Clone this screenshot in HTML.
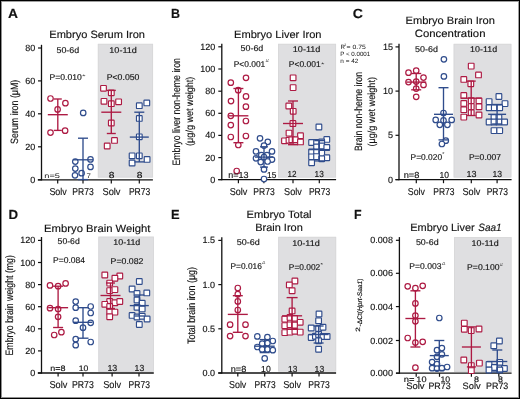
<!DOCTYPE html>
<html><head><meta charset="utf-8"><style>
html,body{margin:0;padding:0;background:#fff;}
svg{display:block;will-change:transform;font-family:"Liberation Sans", sans-serif;}
text{stroke:#1a1a1a;stroke-width:0.15px;}
</style></head><body>
<svg width="520" height="399" viewBox="0 0 520 399" text-rendering="geometricPrecision" font-family="'Liberation Sans', sans-serif">
<rect x="0.0" y="0.0" width="520.0" height="399.0" fill="#fff"/>
<text x="8.0" y="17.8" font-size="13.2" font-weight="bold" textLength="10.0" lengthAdjust="spacingAndGlyphs" fill="#111">A</text>
<text x="49.3" y="38.2" font-size="10.6" textLength="95.7" lengthAdjust="spacingAndGlyphs" fill="#111">Embryo Serum Iron</text>
<rect x="97.8" y="43.8" width="55.3" height="133.8" fill="#dfdfe1"/>
<rect x="98.3" y="44.3" width="54.3" height="132.8" fill="none" stroke="#d7d7d9" stroke-width="0.8"/>
<line x1="41.5" y1="44.8" x2="41.5" y2="180.4" stroke="#111" stroke-width="1.3"/>
<line x1="38.0" y1="48.0" x2="41.5" y2="48.0" stroke="#111" stroke-width="1.2"/>
<text x="35.3" y="51.0" font-size="9.0" text-anchor="end" fill="#111">80</text>
<line x1="38.0" y1="80.9" x2="41.5" y2="80.9" stroke="#111" stroke-width="1.2"/>
<text x="35.3" y="83.9" font-size="9.0" text-anchor="end" fill="#111">60</text>
<line x1="38.0" y1="113.8" x2="41.5" y2="113.8" stroke="#111" stroke-width="1.2"/>
<text x="35.3" y="116.8" font-size="9.0" text-anchor="end" fill="#111">40</text>
<line x1="38.0" y1="146.8" x2="41.5" y2="146.8" stroke="#111" stroke-width="1.2"/>
<text x="35.3" y="149.8" font-size="9.0" text-anchor="end" fill="#111">20</text>
<line x1="38.0" y1="179.8" x2="41.5" y2="179.8" stroke="#111" stroke-width="1.2"/>
<text x="35.3" y="182.8" font-size="9.0" text-anchor="end" fill="#111">0</text>
<line x1="37.8" y1="179.8" x2="152.9" y2="179.8" stroke="#111" stroke-width="1.3"/>
<line x1="57.7" y1="179.8" x2="57.7" y2="183.4" stroke="#111" stroke-width="1.2"/>
<line x1="83.0" y1="179.8" x2="83.0" y2="183.4" stroke="#111" stroke-width="1.2"/>
<line x1="111.3" y1="179.8" x2="111.3" y2="183.4" stroke="#111" stroke-width="1.2"/>
<line x1="139.3" y1="179.8" x2="139.3" y2="183.4" stroke="#111" stroke-width="1.2"/>
<text x="56.5" y="53.2" font-size="8.4" textLength="22.7" lengthAdjust="spacingAndGlyphs" fill="#111">50-6d</text>
<text x="109.3" y="53.2" font-size="8.4" textLength="27.6" lengthAdjust="spacingAndGlyphs" fill="#111">10-11d</text>
<text x="49.5" y="80.0" font-size="8.4" textLength="32.4" lengthAdjust="spacingAndGlyphs" fill="#111">P=0.010</text>
<text x="82.1" y="78.4" font-size="5.2" textLength="3.6" lengthAdjust="spacingAndGlyphs" fill="#111" style="stroke:none">*</text>
<text x="106.7" y="79.9" font-size="8.4" textLength="32.8" lengthAdjust="spacingAndGlyphs" fill="#111">P&lt;0.050</text>
<circle cx="50.5" cy="98.5" r="2.75" fill="#fff" stroke="#ad1a43" stroke-width="1.2"/>
<circle cx="65.4" cy="103.2" r="2.75" fill="#fff" stroke="#ad1a43" stroke-width="1.2"/>
<circle cx="57.6" cy="109.4" r="2.75" fill="#fff" stroke="#ad1a43" stroke-width="1.2"/>
<circle cx="50.5" cy="132.6" r="2.75" fill="#fff" stroke="#ad1a43" stroke-width="1.2"/>
<circle cx="65.1" cy="130.7" r="2.75" fill="#fff" stroke="#ad1a43" stroke-width="1.2"/>
<circle cx="83.2" cy="112.9" r="2.75" fill="#fff" stroke="#2f4c8c" stroke-width="1.2"/>
<circle cx="75.3" cy="161.6" r="2.75" fill="#fff" stroke="#2f4c8c" stroke-width="1.2"/>
<circle cx="90.5" cy="159.4" r="2.75" fill="#fff" stroke="#2f4c8c" stroke-width="1.2"/>
<circle cx="75.3" cy="168.6" r="2.75" fill="#fff" stroke="#2f4c8c" stroke-width="1.2"/>
<circle cx="90.5" cy="166.9" r="2.75" fill="#fff" stroke="#2f4c8c" stroke-width="1.2"/>
<circle cx="75.0" cy="175.3" r="2.75" fill="#fff" stroke="#2f4c8c" stroke-width="1.2"/>
<circle cx="81.6" cy="173.2" r="2.75" fill="#fff" stroke="#2f4c8c" stroke-width="1.2"/>
<rect x="100.65" y="85.45" width="5.7" height="5.7" rx="0.6" fill="#fff" stroke="#ad1a43" stroke-width="1.15"/>
<rect x="108.45" y="89.95" width="5.7" height="5.7" rx="0.6" fill="#fff" stroke="#ad1a43" stroke-width="1.15"/>
<rect x="101.15" y="98.45" width="5.7" height="5.7" rx="0.6" fill="#fff" stroke="#ad1a43" stroke-width="1.15"/>
<rect x="108.45" y="100.85" width="5.7" height="5.7" rx="0.6" fill="#fff" stroke="#ad1a43" stroke-width="1.15"/>
<rect x="115.75" y="98.95" width="5.7" height="5.7" rx="0.6" fill="#fff" stroke="#ad1a43" stroke-width="1.15"/>
<rect x="108.45" y="120.15" width="5.7" height="5.7" rx="0.6" fill="#fff" stroke="#ad1a43" stroke-width="1.15"/>
<rect x="111.65" y="137.55" width="5.7" height="5.7" rx="0.6" fill="#fff" stroke="#ad1a43" stroke-width="1.15"/>
<rect x="104.35" y="143.15" width="5.7" height="5.7" rx="0.6" fill="#fff" stroke="#ad1a43" stroke-width="1.15"/>
<rect x="136.45" y="102.85" width="5.7" height="5.7" rx="0.6" fill="#fff" stroke="#2f4c8c" stroke-width="1.15"/>
<rect x="143.95" y="100.05" width="5.7" height="5.7" rx="0.6" fill="#fff" stroke="#2f4c8c" stroke-width="1.15"/>
<rect x="136.45" y="115.55" width="5.7" height="5.7" rx="0.6" fill="#fff" stroke="#2f4c8c" stroke-width="1.15"/>
<rect x="136.45" y="133.95" width="5.7" height="5.7" rx="0.6" fill="#fff" stroke="#2f4c8c" stroke-width="1.15"/>
<rect x="129.25" y="152.95" width="5.7" height="5.7" rx="0.6" fill="#fff" stroke="#2f4c8c" stroke-width="1.15"/>
<rect x="136.45" y="152.95" width="5.7" height="5.7" rx="0.6" fill="#fff" stroke="#2f4c8c" stroke-width="1.15"/>
<rect x="144.25" y="156.55" width="5.7" height="5.7" rx="0.6" fill="#fff" stroke="#2f4c8c" stroke-width="1.15"/>
<rect x="129.25" y="160.15" width="5.7" height="5.7" rx="0.6" fill="#fff" stroke="#2f4c8c" stroke-width="1.15"/>
<text x="44.3" y="178.0" font-size="6.6" textLength="15.6" lengthAdjust="spacingAndGlyphs" fill="#111" style="stroke:none">n=5</text>
<text x="86.6" y="178.0" font-size="6.6" textLength="4.4" lengthAdjust="spacingAndGlyphs" fill="#111" style="stroke:none">7</text>
<text x="108.7" y="178.0" font-size="8.8" textLength="5.7" lengthAdjust="spacingAndGlyphs" fill="#111">8</text>
<text x="136.7" y="178.0" font-size="8.8" textLength="5.7" lengthAdjust="spacingAndGlyphs" fill="#111">8</text>
<text x="49.4" y="195.0" font-size="10.0" textLength="17.4" lengthAdjust="spacingAndGlyphs" fill="#111">Solv</text>
<text x="72.3" y="195.0" font-size="10.0" textLength="21.4" lengthAdjust="spacingAndGlyphs" fill="#111">PR73</text>
<text x="102.5" y="195.0" font-size="10.0" textLength="18.0" lengthAdjust="spacingAndGlyphs" fill="#111">Solv</text>
<text x="128.9" y="195.0" font-size="10.0" textLength="21.4" lengthAdjust="spacingAndGlyphs" fill="#111">PR73</text>
<text x="0" y="0" font-size="10.6" text-anchor="middle" textLength="64.2" lengthAdjust="spacingAndGlyphs" fill="#111" transform="translate(17.6,111.8) rotate(-90)">Serum iron (μM)</text>
<text x="171.0" y="17.9" font-size="13.2" font-weight="bold" textLength="9.0" lengthAdjust="spacingAndGlyphs" fill="#111">B</text>
<text x="234.0" y="38.3" font-size="10.6" textLength="87.5" lengthAdjust="spacingAndGlyphs" fill="#111">Embryo Liver Iron</text>
<rect x="278.0" y="43.8" width="58.1" height="133.8" fill="#dfdfe1"/>
<rect x="278.5" y="44.3" width="57.1" height="132.8" fill="none" stroke="#d7d7d9" stroke-width="0.8"/>
<line x1="221.8" y1="43.7" x2="221.8" y2="180.2" stroke="#111" stroke-width="1.3"/>
<line x1="218.3" y1="46.8" x2="221.8" y2="46.8" stroke="#111" stroke-width="1.2"/>
<text x="215.3" y="49.8" font-size="9.0" text-anchor="end" fill="#111">120</text>
<line x1="218.3" y1="69.0" x2="221.8" y2="69.0" stroke="#111" stroke-width="1.2"/>
<text x="215.3" y="72.0" font-size="9.0" text-anchor="end" fill="#111">100</text>
<line x1="218.3" y1="91.2" x2="221.8" y2="91.2" stroke="#111" stroke-width="1.2"/>
<text x="215.3" y="94.2" font-size="9.0" text-anchor="end" fill="#111">80</text>
<line x1="218.3" y1="113.3" x2="221.8" y2="113.3" stroke="#111" stroke-width="1.2"/>
<text x="215.3" y="116.3" font-size="9.0" text-anchor="end" fill="#111">60</text>
<line x1="218.3" y1="135.4" x2="221.8" y2="135.4" stroke="#111" stroke-width="1.2"/>
<text x="215.3" y="138.4" font-size="9.0" text-anchor="end" fill="#111">40</text>
<line x1="218.3" y1="157.6" x2="221.8" y2="157.6" stroke="#111" stroke-width="1.2"/>
<text x="215.3" y="160.6" font-size="9.0" text-anchor="end" fill="#111">20</text>
<line x1="218.3" y1="179.6" x2="221.8" y2="179.6" stroke="#111" stroke-width="1.2"/>
<text x="215.3" y="182.6" font-size="9.0" text-anchor="end" fill="#111">0</text>
<line x1="218.2" y1="179.6" x2="336.1" y2="179.6" stroke="#111" stroke-width="1.3"/>
<line x1="238.4" y1="179.6" x2="238.4" y2="183.2" stroke="#111" stroke-width="1.2"/>
<line x1="263.9" y1="179.6" x2="263.9" y2="183.2" stroke="#111" stroke-width="1.2"/>
<line x1="293.0" y1="179.6" x2="293.0" y2="183.2" stroke="#111" stroke-width="1.2"/>
<line x1="319.3" y1="179.6" x2="319.3" y2="183.2" stroke="#111" stroke-width="1.2"/>
<text x="240.6" y="51.3" font-size="8.4" textLength="22.7" lengthAdjust="spacingAndGlyphs" fill="#111">50-6d</text>
<text x="292.8" y="51.6" font-size="8.4" textLength="27.6" lengthAdjust="spacingAndGlyphs" fill="#111">10-11d</text>
<text x="233.7" y="67.0" font-size="8.4" textLength="31.6" lengthAdjust="spacingAndGlyphs" fill="#111">P&lt;0.001</text>
<text x="265.6" y="62.2" font-size="4.4" textLength="3.5" lengthAdjust="spacingAndGlyphs" fill="#111" style="stroke:none">#</text>
<text x="288.8" y="67.0" font-size="8.4" textLength="31.8" lengthAdjust="spacingAndGlyphs" fill="#111">P&lt;0.001</text>
<text x="321.0" y="65.8" font-size="5.0" textLength="3.4" lengthAdjust="spacingAndGlyphs" fill="#111" style="stroke:none">*</text>
<circle cx="230.8" cy="82.7" r="2.75" fill="#fff" stroke="#ad1a43" stroke-width="1.2"/>
<circle cx="246.0" cy="77.8" r="2.75" fill="#fff" stroke="#ad1a43" stroke-width="1.2"/>
<circle cx="238.2" cy="90.2" r="2.75" fill="#fff" stroke="#ad1a43" stroke-width="1.2"/>
<circle cx="246.0" cy="96.4" r="2.75" fill="#fff" stroke="#ad1a43" stroke-width="1.2"/>
<circle cx="231.0" cy="101.1" r="2.75" fill="#fff" stroke="#ad1a43" stroke-width="1.2"/>
<circle cx="245.9" cy="106.7" r="2.75" fill="#fff" stroke="#ad1a43" stroke-width="1.2"/>
<circle cx="230.8" cy="115.8" r="2.75" fill="#fff" stroke="#ad1a43" stroke-width="1.2"/>
<circle cx="245.9" cy="121.0" r="2.75" fill="#fff" stroke="#ad1a43" stroke-width="1.2"/>
<circle cx="230.8" cy="125.1" r="2.75" fill="#fff" stroke="#ad1a43" stroke-width="1.2"/>
<circle cx="230.8" cy="137.0" r="2.75" fill="#fff" stroke="#ad1a43" stroke-width="1.2"/>
<circle cx="245.9" cy="136.0" r="2.75" fill="#fff" stroke="#ad1a43" stroke-width="1.2"/>
<circle cx="238.3" cy="145.0" r="2.75" fill="#fff" stroke="#ad1a43" stroke-width="1.2"/>
<circle cx="236.7" cy="171.0" r="2.75" fill="#fff" stroke="#ad1a43" stroke-width="1.2"/>
<circle cx="260.0" cy="138.3" r="2.75" fill="#fff" stroke="#2f4c8c" stroke-width="1.2"/>
<circle cx="267.8" cy="141.8" r="2.75" fill="#fff" stroke="#2f4c8c" stroke-width="1.2"/>
<circle cx="264.0" cy="145.6" r="2.75" fill="#fff" stroke="#2f4c8c" stroke-width="1.2"/>
<circle cx="256.0" cy="151.4" r="2.75" fill="#fff" stroke="#2f4c8c" stroke-width="1.2"/>
<circle cx="272.0" cy="151.4" r="2.75" fill="#fff" stroke="#2f4c8c" stroke-width="1.2"/>
<circle cx="261.3" cy="155.2" r="2.75" fill="#fff" stroke="#2f4c8c" stroke-width="1.2"/>
<circle cx="267.0" cy="155.2" r="2.75" fill="#fff" stroke="#2f4c8c" stroke-width="1.2"/>
<circle cx="256.0" cy="158.3" r="2.75" fill="#fff" stroke="#2f4c8c" stroke-width="1.2"/>
<circle cx="264.0" cy="157.1" r="2.75" fill="#fff" stroke="#2f4c8c" stroke-width="1.2"/>
<circle cx="272.0" cy="159.6" r="2.75" fill="#fff" stroke="#2f4c8c" stroke-width="1.2"/>
<circle cx="260.7" cy="162.1" r="2.75" fill="#fff" stroke="#2f4c8c" stroke-width="1.2"/>
<circle cx="267.6" cy="161.5" r="2.75" fill="#fff" stroke="#2f4c8c" stroke-width="1.2"/>
<circle cx="264.0" cy="169.4" r="2.75" fill="#fff" stroke="#2f4c8c" stroke-width="1.2"/>
<circle cx="264.0" cy="179.0" r="2.75" fill="#fff" stroke="#2f4c8c" stroke-width="1.2"/>
<rect x="290.25" y="74.95" width="5.7" height="5.7" rx="0.6" fill="#fff" stroke="#ad1a43" stroke-width="1.15"/>
<rect x="290.25" y="84.75" width="5.7" height="5.7" rx="0.6" fill="#fff" stroke="#ad1a43" stroke-width="1.15"/>
<rect x="285.95" y="103.15" width="5.7" height="5.7" rx="0.6" fill="#fff" stroke="#ad1a43" stroke-width="1.15"/>
<rect x="290.35" y="108.45" width="5.7" height="5.7" rx="0.6" fill="#fff" stroke="#ad1a43" stroke-width="1.15"/>
<rect x="290.05" y="120.65" width="5.7" height="5.7" rx="0.6" fill="#fff" stroke="#ad1a43" stroke-width="1.15"/>
<rect x="286.15" y="130.25" width="5.7" height="5.7" rx="0.6" fill="#fff" stroke="#ad1a43" stroke-width="1.15"/>
<rect x="297.65" y="132.85" width="5.7" height="5.7" rx="0.6" fill="#fff" stroke="#ad1a43" stroke-width="1.15"/>
<rect x="281.65" y="137.95" width="5.7" height="5.7" rx="0.6" fill="#fff" stroke="#ad1a43" stroke-width="1.15"/>
<rect x="286.15" y="137.35" width="5.7" height="5.7" rx="0.6" fill="#fff" stroke="#ad1a43" stroke-width="1.15"/>
<rect x="288.95" y="136.85" width="5.7" height="5.7" rx="0.6" fill="#fff" stroke="#ad1a43" stroke-width="1.15"/>
<rect x="292.35" y="136.85" width="5.7" height="5.7" rx="0.6" fill="#fff" stroke="#ad1a43" stroke-width="1.15"/>
<rect x="297.65" y="139.05" width="5.7" height="5.7" rx="0.6" fill="#fff" stroke="#ad1a43" stroke-width="1.15"/>
<rect x="316.05" y="124.15" width="5.7" height="5.7" rx="0.6" fill="#fff" stroke="#2f4c8c" stroke-width="1.15"/>
<rect x="323.95" y="136.55" width="5.7" height="5.7" rx="0.6" fill="#fff" stroke="#2f4c8c" stroke-width="1.15"/>
<rect x="308.75" y="139.65" width="5.7" height="5.7" rx="0.6" fill="#fff" stroke="#2f4c8c" stroke-width="1.15"/>
<rect x="313.75" y="139.65" width="5.7" height="5.7" rx="0.6" fill="#fff" stroke="#2f4c8c" stroke-width="1.15"/>
<rect x="318.85" y="139.05" width="5.7" height="5.7" rx="0.6" fill="#fff" stroke="#2f4c8c" stroke-width="1.15"/>
<rect x="313.75" y="144.15" width="5.7" height="5.7" rx="0.6" fill="#fff" stroke="#2f4c8c" stroke-width="1.15"/>
<rect x="318.85" y="143.05" width="5.7" height="5.7" rx="0.6" fill="#fff" stroke="#2f4c8c" stroke-width="1.15"/>
<rect x="323.95" y="144.65" width="5.7" height="5.7" rx="0.6" fill="#fff" stroke="#2f4c8c" stroke-width="1.15"/>
<rect x="308.75" y="148.95" width="5.7" height="5.7" rx="0.6" fill="#fff" stroke="#2f4c8c" stroke-width="1.15"/>
<rect x="313.75" y="148.95" width="5.7" height="5.7" rx="0.6" fill="#fff" stroke="#2f4c8c" stroke-width="1.15"/>
<rect x="318.85" y="150.35" width="5.7" height="5.7" rx="0.6" fill="#fff" stroke="#2f4c8c" stroke-width="1.15"/>
<rect x="308.75" y="153.95" width="5.7" height="5.7" rx="0.6" fill="#fff" stroke="#2f4c8c" stroke-width="1.15"/>
<rect x="313.75" y="153.75" width="5.7" height="5.7" rx="0.6" fill="#fff" stroke="#2f4c8c" stroke-width="1.15"/>
<rect x="323.95" y="154.85" width="5.7" height="5.7" rx="0.6" fill="#fff" stroke="#2f4c8c" stroke-width="1.15"/>
<rect x="318.85" y="155.95" width="5.7" height="5.7" rx="0.6" fill="#fff" stroke="#2f4c8c" stroke-width="1.15"/>
<rect x="308.75" y="159.95" width="5.7" height="5.7" rx="0.6" fill="#fff" stroke="#2f4c8c" stroke-width="1.15"/>
<text x="228.3" y="178.0" font-size="8.8" textLength="20.3" lengthAdjust="spacingAndGlyphs" fill="#111">n=13</text>
<text x="267.1" y="178.0" font-size="8.8" textLength="9.3" lengthAdjust="spacingAndGlyphs" fill="#111">15</text>
<text x="287.5" y="177.0" font-size="8.8" textLength="9.0" lengthAdjust="spacingAndGlyphs" fill="#111">12</text>
<text x="314.6" y="177.0" font-size="8.8" textLength="9.2" lengthAdjust="spacingAndGlyphs" fill="#111">13</text>
<text x="229.7" y="195.0" font-size="10.0" textLength="17.6" lengthAdjust="spacingAndGlyphs" fill="#111">Solv</text>
<text x="253.3" y="195.0" font-size="10.0" textLength="21.4" lengthAdjust="spacingAndGlyphs" fill="#111">PR73</text>
<text x="284.1" y="195.0" font-size="10.0" textLength="17.7" lengthAdjust="spacingAndGlyphs" fill="#111">Solv</text>
<text x="308.9" y="195.0" font-size="10.0" textLength="21.4" lengthAdjust="spacingAndGlyphs" fill="#111">PR73</text>
<text x="0" y="0" font-size="10.8" text-anchor="middle" textLength="107.6" lengthAdjust="spacingAndGlyphs" fill="#111" transform="translate(180.0,111.8) rotate(-90)">Embryo liver non-heme iron</text>
<text x="0" y="0" font-size="10.2" text-anchor="middle" textLength="69.2" lengthAdjust="spacingAndGlyphs" fill="#111" transform="translate(192.6,111.3) rotate(-90)">(μg/g wet weight)</text>
<text x="340.4" y="48.5" font-size="6.2" fill="#111" style="stroke:none">R</text>
<text x="344.3" y="45.6" font-size="3.6" fill="#111" style="stroke:none">2</text>
<text x="346.5" y="48.5" font-size="6.2" textLength="19.3" lengthAdjust="spacingAndGlyphs" fill="#111" style="stroke:none">= 0.75</text>
<text x="340.3" y="55.7" font-size="6.2" textLength="29.9" lengthAdjust="spacingAndGlyphs" fill="#111" style="stroke:none">P &lt; 0.0001</text>
<text x="340.3" y="63.2" font-size="6.2" textLength="18.0" lengthAdjust="spacingAndGlyphs" fill="#111" style="stroke:none">n = 42</text>
<text x="352.8" y="18.2" font-size="13.2" font-weight="bold" textLength="10.2" lengthAdjust="spacingAndGlyphs" fill="#111">C</text>
<text x="405.5" y="24.0" font-size="10.6" textLength="89.4" lengthAdjust="spacingAndGlyphs" fill="#111">Embryo Brain Iron</text>
<text x="414.7" y="36.9" font-size="10.6" textLength="70.8" lengthAdjust="spacingAndGlyphs" fill="#111">Concentration</text>
<rect x="453.6" y="43.8" width="57.8" height="133.8" fill="#dfdfe1"/>
<rect x="454.1" y="44.3" width="56.8" height="132.8" fill="none" stroke="#d7d7d9" stroke-width="0.8"/>
<line x1="399.0" y1="43.8" x2="399.0" y2="180.2" stroke="#111" stroke-width="1.3"/>
<line x1="395.5" y1="46.9" x2="399.0" y2="46.9" stroke="#111" stroke-width="1.2"/>
<text x="393.0" y="49.9" font-size="9.0" text-anchor="end" fill="#111">15</text>
<line x1="395.5" y1="91.1" x2="399.0" y2="91.1" stroke="#111" stroke-width="1.2"/>
<text x="393.0" y="94.1" font-size="9.0" text-anchor="end" fill="#111">10</text>
<line x1="395.5" y1="135.3" x2="399.0" y2="135.3" stroke="#111" stroke-width="1.2"/>
<text x="393.0" y="138.3" font-size="9.0" text-anchor="end" fill="#111">5</text>
<line x1="395.5" y1="179.6" x2="399.0" y2="179.6" stroke="#111" stroke-width="1.2"/>
<text x="393.0" y="182.6" font-size="9.0" text-anchor="end" fill="#111">0</text>
<line x1="395.5" y1="179.6" x2="511.6" y2="179.6" stroke="#111" stroke-width="1.3"/>
<line x1="416.3" y1="179.6" x2="416.3" y2="183.2" stroke="#111" stroke-width="1.2"/>
<line x1="443.5" y1="179.6" x2="443.5" y2="183.2" stroke="#111" stroke-width="1.2"/>
<line x1="471.3" y1="179.6" x2="471.3" y2="183.2" stroke="#111" stroke-width="1.2"/>
<line x1="497.1" y1="179.6" x2="497.1" y2="183.2" stroke="#111" stroke-width="1.2"/>
<text x="415.1" y="51.7" font-size="8.4" textLength="22.8" lengthAdjust="spacingAndGlyphs" fill="#111">50-6d</text>
<text x="470.1" y="51.7" font-size="8.4" textLength="27.0" lengthAdjust="spacingAndGlyphs" fill="#111">10-11d</text>
<circle cx="408.5" cy="72.7" r="2.75" fill="#fff" stroke="#ad1a43" stroke-width="1.2"/>
<circle cx="416.2" cy="70.7" r="2.75" fill="#fff" stroke="#ad1a43" stroke-width="1.2"/>
<circle cx="423.5" cy="77.6" r="2.75" fill="#fff" stroke="#ad1a43" stroke-width="1.2"/>
<circle cx="408.5" cy="82.1" r="2.75" fill="#fff" stroke="#ad1a43" stroke-width="1.2"/>
<circle cx="416.2" cy="81.6" r="2.75" fill="#fff" stroke="#ad1a43" stroke-width="1.2"/>
<circle cx="423.5" cy="84.9" r="2.75" fill="#fff" stroke="#ad1a43" stroke-width="1.2"/>
<circle cx="416.2" cy="88.6" r="2.75" fill="#fff" stroke="#ad1a43" stroke-width="1.2"/>
<circle cx="416.2" cy="96.8" r="2.75" fill="#fff" stroke="#ad1a43" stroke-width="1.2"/>
<circle cx="443.9" cy="59.3" r="2.75" fill="#fff" stroke="#2f4c8c" stroke-width="1.2"/>
<circle cx="443.9" cy="76.4" r="2.75" fill="#fff" stroke="#2f4c8c" stroke-width="1.2"/>
<circle cx="443.5" cy="113.0" r="2.75" fill="#fff" stroke="#2f4c8c" stroke-width="1.2"/>
<circle cx="435.7" cy="119.9" r="2.75" fill="#fff" stroke="#2f4c8c" stroke-width="1.2"/>
<circle cx="443.5" cy="120.4" r="2.75" fill="#fff" stroke="#2f4c8c" stroke-width="1.2"/>
<circle cx="451.7" cy="119.9" r="2.75" fill="#fff" stroke="#2f4c8c" stroke-width="1.2"/>
<circle cx="439.8" cy="124.8" r="2.75" fill="#fff" stroke="#2f4c8c" stroke-width="1.2"/>
<circle cx="447.4" cy="124.8" r="2.75" fill="#fff" stroke="#2f4c8c" stroke-width="1.2"/>
<circle cx="445.8" cy="140.7" r="2.75" fill="#fff" stroke="#2f4c8c" stroke-width="1.2"/>
<circle cx="441.9" cy="144.0" r="2.75" fill="#fff" stroke="#2f4c8c" stroke-width="1.2"/>
<rect x="468.35" y="63.25" width="5.7" height="5.7" rx="0.6" fill="#fff" stroke="#ad1a43" stroke-width="1.15"/>
<rect x="475.65" y="72.05" width="5.7" height="5.7" rx="0.6" fill="#fff" stroke="#ad1a43" stroke-width="1.15"/>
<rect x="460.95" y="76.55" width="5.7" height="5.7" rx="0.6" fill="#fff" stroke="#ad1a43" stroke-width="1.15"/>
<rect x="467.95" y="80.95" width="5.7" height="5.7" rx="0.6" fill="#fff" stroke="#ad1a43" stroke-width="1.15"/>
<rect x="460.95" y="92.55" width="5.7" height="5.7" rx="0.6" fill="#fff" stroke="#ad1a43" stroke-width="1.15"/>
<rect x="460.95" y="100.65" width="5.7" height="5.7" rx="0.6" fill="#fff" stroke="#ad1a43" stroke-width="1.15"/>
<rect x="460.95" y="106.85" width="5.7" height="5.7" rx="0.6" fill="#fff" stroke="#ad1a43" stroke-width="1.15"/>
<rect x="460.95" y="114.25" width="5.7" height="5.7" rx="0.6" fill="#fff" stroke="#ad1a43" stroke-width="1.15"/>
<rect x="468.35" y="97.75" width="5.7" height="5.7" rx="0.6" fill="#fff" stroke="#ad1a43" stroke-width="1.15"/>
<rect x="468.35" y="103.75" width="5.7" height="5.7" rx="0.6" fill="#fff" stroke="#ad1a43" stroke-width="1.15"/>
<rect x="468.35" y="109.85" width="5.7" height="5.7" rx="0.6" fill="#fff" stroke="#ad1a43" stroke-width="1.15"/>
<rect x="476.15" y="97.95" width="5.7" height="5.7" rx="0.6" fill="#fff" stroke="#ad1a43" stroke-width="1.15"/>
<rect x="476.15" y="103.95" width="5.7" height="5.7" rx="0.6" fill="#fff" stroke="#ad1a43" stroke-width="1.15"/>
<rect x="476.15" y="112.15" width="5.7" height="5.7" rx="0.6" fill="#fff" stroke="#ad1a43" stroke-width="1.15"/>
<rect x="496.05" y="93.65" width="5.7" height="5.7" rx="0.6" fill="#fff" stroke="#2f4c8c" stroke-width="1.15"/>
<rect x="486.25" y="98.75" width="5.7" height="5.7" rx="0.6" fill="#fff" stroke="#2f4c8c" stroke-width="1.15"/>
<rect x="502.15" y="100.75" width="5.7" height="5.7" rx="0.6" fill="#fff" stroke="#2f4c8c" stroke-width="1.15"/>
<rect x="486.25" y="104.95" width="5.7" height="5.7" rx="0.6" fill="#fff" stroke="#2f4c8c" stroke-width="1.15"/>
<rect x="491.45" y="104.95" width="5.7" height="5.7" rx="0.6" fill="#fff" stroke="#2f4c8c" stroke-width="1.15"/>
<rect x="496.85" y="104.95" width="5.7" height="5.7" rx="0.6" fill="#fff" stroke="#2f4c8c" stroke-width="1.15"/>
<rect x="491.15" y="114.75" width="5.7" height="5.7" rx="0.6" fill="#fff" stroke="#2f4c8c" stroke-width="1.15"/>
<rect x="496.05" y="114.75" width="5.7" height="5.7" rx="0.6" fill="#fff" stroke="#2f4c8c" stroke-width="1.15"/>
<rect x="486.25" y="119.15" width="5.7" height="5.7" rx="0.6" fill="#fff" stroke="#2f4c8c" stroke-width="1.15"/>
<rect x="491.15" y="119.15" width="5.7" height="5.7" rx="0.6" fill="#fff" stroke="#2f4c8c" stroke-width="1.15"/>
<rect x="496.05" y="119.15" width="5.7" height="5.7" rx="0.6" fill="#fff" stroke="#2f4c8c" stroke-width="1.15"/>
<rect x="501.75" y="119.15" width="5.7" height="5.7" rx="0.6" fill="#fff" stroke="#2f4c8c" stroke-width="1.15"/>
<rect x="491.15" y="127.75" width="5.7" height="5.7" rx="0.6" fill="#fff" stroke="#2f4c8c" stroke-width="1.15"/>
<rect x="496.85" y="127.75" width="5.7" height="5.7" rx="0.6" fill="#fff" stroke="#2f4c8c" stroke-width="1.15"/>
<text x="410.6" y="160.4" font-size="8.4" textLength="31.5" lengthAdjust="spacingAndGlyphs" fill="#111">P=0.020</text>
<text x="442.1" y="155.4" font-size="4.0" textLength="2.6" lengthAdjust="spacingAndGlyphs" fill="#111" style="stroke:none">*</text>
<text x="468.9" y="160.3" font-size="8.4" textLength="32.2" lengthAdjust="spacingAndGlyphs" fill="#111">P=0.007</text>
<text x="403.7" y="178.0" font-size="8.8" textLength="15.7" lengthAdjust="spacingAndGlyphs" fill="#111">n=8</text>
<text x="439.5" y="178.0" font-size="8.8" textLength="9.5" lengthAdjust="spacingAndGlyphs" fill="#111">10</text>
<text x="466.5" y="177.0" font-size="8.8" textLength="10.0" lengthAdjust="spacingAndGlyphs" fill="#111">13</text>
<text x="492.5" y="177.0" font-size="8.8" textLength="9.6" lengthAdjust="spacingAndGlyphs" fill="#111">13</text>
<text x="407.8" y="195.0" font-size="10.0" textLength="17.1" lengthAdjust="spacingAndGlyphs" fill="#111">Solv</text>
<text x="433.3" y="195.0" font-size="10.0" textLength="21.2" lengthAdjust="spacingAndGlyphs" fill="#111">PR73</text>
<text x="462.5" y="195.0" font-size="10.0" textLength="17.7" lengthAdjust="spacingAndGlyphs" fill="#111">Solv</text>
<text x="486.7" y="195.0" font-size="10.0" textLength="21.2" lengthAdjust="spacingAndGlyphs" fill="#111">PR73</text>
<text x="0" y="0" font-size="10.6" text-anchor="middle" textLength="79.0" lengthAdjust="spacingAndGlyphs" fill="#111" transform="translate(362.3,111.5) rotate(-90)">Brain non-heme iron</text>
<text x="0" y="0" font-size="10.2" text-anchor="middle" textLength="69.5" lengthAdjust="spacingAndGlyphs" fill="#111" transform="translate(375.2,111.8) rotate(-90)">(μg/g wet weight)</text>
<text x="8.6" y="218.7" font-size="13.2" font-weight="bold" textLength="9.6" lengthAdjust="spacingAndGlyphs" fill="#111">D</text>
<text x="44.1" y="231.7" font-size="10.6" textLength="106.4" lengthAdjust="spacingAndGlyphs" fill="#111">Embryo Brain Weight</text>
<rect x="98.3" y="236.6" width="55.6" height="135.2" fill="#dfdfe1"/>
<rect x="98.8" y="237.1" width="54.6" height="134.2" fill="none" stroke="#d7d7d9" stroke-width="0.8"/>
<line x1="41.5" y1="237.0" x2="41.5" y2="373.6" stroke="#111" stroke-width="1.3"/>
<line x1="38.0" y1="240.4" x2="41.5" y2="240.4" stroke="#111" stroke-width="1.2"/>
<text x="35.3" y="243.4" font-size="9.0" text-anchor="end" fill="#111">120</text>
<line x1="38.0" y1="262.5" x2="41.5" y2="262.5" stroke="#111" stroke-width="1.2"/>
<text x="35.3" y="265.5" font-size="9.0" text-anchor="end" fill="#111">100</text>
<line x1="38.0" y1="284.6" x2="41.5" y2="284.6" stroke="#111" stroke-width="1.2"/>
<text x="35.3" y="287.6" font-size="9.0" text-anchor="end" fill="#111">80</text>
<line x1="38.0" y1="306.7" x2="41.5" y2="306.7" stroke="#111" stroke-width="1.2"/>
<text x="35.3" y="309.7" font-size="9.0" text-anchor="end" fill="#111">60</text>
<line x1="38.0" y1="328.8" x2="41.5" y2="328.8" stroke="#111" stroke-width="1.2"/>
<text x="35.3" y="331.8" font-size="9.0" text-anchor="end" fill="#111">40</text>
<line x1="38.0" y1="350.9" x2="41.5" y2="350.9" stroke="#111" stroke-width="1.2"/>
<text x="35.3" y="353.9" font-size="9.0" text-anchor="end" fill="#111">20</text>
<line x1="38.0" y1="373.0" x2="41.5" y2="373.0" stroke="#111" stroke-width="1.2"/>
<text x="35.3" y="376.0" font-size="9.0" text-anchor="end" fill="#111">0</text>
<line x1="37.8" y1="373.0" x2="153.8" y2="373.0" stroke="#111" stroke-width="1.3"/>
<line x1="58.1" y1="373.0" x2="58.1" y2="376.6" stroke="#111" stroke-width="1.2"/>
<line x1="83.0" y1="373.0" x2="83.0" y2="376.6" stroke="#111" stroke-width="1.2"/>
<line x1="112.1" y1="373.0" x2="112.1" y2="376.6" stroke="#111" stroke-width="1.2"/>
<line x1="139.0" y1="373.0" x2="139.0" y2="376.6" stroke="#111" stroke-width="1.2"/>
<text x="57.6" y="244.1" font-size="8.4" textLength="22.1" lengthAdjust="spacingAndGlyphs" fill="#111">50-6d</text>
<text x="113.3" y="245.2" font-size="8.4" textLength="27.0" lengthAdjust="spacingAndGlyphs" fill="#111">10-11d</text>
<text x="53.0" y="262.9" font-size="8.4" textLength="32.1" lengthAdjust="spacingAndGlyphs" fill="#111">P=0.084</text>
<text x="110.6" y="264.0" font-size="8.4" textLength="32.9" lengthAdjust="spacingAndGlyphs" fill="#111">P=0.082</text>
<circle cx="50.0" cy="285.4" r="2.75" fill="#fff" stroke="#ad1a43" stroke-width="1.2"/>
<circle cx="58.1" cy="286.2" r="2.75" fill="#fff" stroke="#ad1a43" stroke-width="1.2"/>
<circle cx="65.6" cy="283.4" r="2.75" fill="#fff" stroke="#ad1a43" stroke-width="1.2"/>
<circle cx="50.0" cy="308.2" r="2.75" fill="#fff" stroke="#ad1a43" stroke-width="1.2"/>
<circle cx="58.1" cy="309.0" r="2.75" fill="#fff" stroke="#ad1a43" stroke-width="1.2"/>
<circle cx="58.1" cy="316.8" r="2.75" fill="#fff" stroke="#ad1a43" stroke-width="1.2"/>
<circle cx="54.2" cy="335.0" r="2.75" fill="#fff" stroke="#ad1a43" stroke-width="1.2"/>
<circle cx="61.4" cy="332.2" r="2.75" fill="#fff" stroke="#ad1a43" stroke-width="1.2"/>
<circle cx="75.7" cy="301.6" r="2.75" fill="#fff" stroke="#2f4c8c" stroke-width="1.2"/>
<circle cx="75.7" cy="307.7" r="2.75" fill="#fff" stroke="#2f4c8c" stroke-width="1.2"/>
<circle cx="90.7" cy="306.5" r="2.75" fill="#fff" stroke="#2f4c8c" stroke-width="1.2"/>
<circle cx="90.7" cy="313.0" r="2.75" fill="#fff" stroke="#2f4c8c" stroke-width="1.2"/>
<circle cx="75.7" cy="320.7" r="2.75" fill="#fff" stroke="#2f4c8c" stroke-width="1.2"/>
<circle cx="90.7" cy="322.8" r="2.75" fill="#fff" stroke="#2f4c8c" stroke-width="1.2"/>
<circle cx="83.0" cy="327.7" r="2.75" fill="#fff" stroke="#2f4c8c" stroke-width="1.2"/>
<circle cx="75.7" cy="339.2" r="2.75" fill="#fff" stroke="#2f4c8c" stroke-width="1.2"/>
<circle cx="75.7" cy="345.2" r="2.75" fill="#fff" stroke="#2f4c8c" stroke-width="1.2"/>
<circle cx="90.7" cy="342.0" r="2.75" fill="#fff" stroke="#2f4c8c" stroke-width="1.2"/>
<rect x="101.95" y="272.15" width="5.7" height="5.7" rx="0.6" fill="#fff" stroke="#ad1a43" stroke-width="1.15"/>
<rect x="116.95" y="273.15" width="5.7" height="5.7" rx="0.6" fill="#fff" stroke="#ad1a43" stroke-width="1.15"/>
<rect x="112.05" y="275.35" width="5.7" height="5.7" rx="0.6" fill="#fff" stroke="#ad1a43" stroke-width="1.15"/>
<rect x="106.85" y="280.25" width="5.7" height="5.7" rx="0.6" fill="#fff" stroke="#ad1a43" stroke-width="1.15"/>
<rect x="106.85" y="287.75" width="5.7" height="5.7" rx="0.6" fill="#fff" stroke="#ad1a43" stroke-width="1.15"/>
<rect x="112.05" y="286.75" width="5.7" height="5.7" rx="0.6" fill="#fff" stroke="#ad1a43" stroke-width="1.15"/>
<rect x="106.85" y="298.65" width="5.7" height="5.7" rx="0.6" fill="#fff" stroke="#ad1a43" stroke-width="1.15"/>
<rect x="112.05" y="299.85" width="5.7" height="5.7" rx="0.6" fill="#fff" stroke="#ad1a43" stroke-width="1.15"/>
<rect x="116.95" y="298.65" width="5.7" height="5.7" rx="0.6" fill="#fff" stroke="#ad1a43" stroke-width="1.15"/>
<rect x="101.95" y="301.45" width="5.7" height="5.7" rx="0.6" fill="#fff" stroke="#ad1a43" stroke-width="1.15"/>
<rect x="106.85" y="303.55" width="5.7" height="5.7" rx="0.6" fill="#fff" stroke="#ad1a43" stroke-width="1.15"/>
<rect x="106.85" y="309.25" width="5.7" height="5.7" rx="0.6" fill="#fff" stroke="#ad1a43" stroke-width="1.15"/>
<rect x="112.05" y="309.25" width="5.7" height="5.7" rx="0.6" fill="#fff" stroke="#ad1a43" stroke-width="1.15"/>
<rect x="106.85" y="313.85" width="5.7" height="5.7" rx="0.6" fill="#fff" stroke="#ad1a43" stroke-width="1.15"/>
<rect x="136.45" y="278.65" width="5.7" height="5.7" rx="0.6" fill="#fff" stroke="#2f4c8c" stroke-width="1.15"/>
<rect x="129.25" y="286.15" width="5.7" height="5.7" rx="0.6" fill="#fff" stroke="#2f4c8c" stroke-width="1.15"/>
<rect x="134.15" y="290.55" width="5.7" height="5.7" rx="0.6" fill="#fff" stroke="#2f4c8c" stroke-width="1.15"/>
<rect x="143.95" y="290.05" width="5.7" height="5.7" rx="0.6" fill="#fff" stroke="#2f4c8c" stroke-width="1.15"/>
<rect x="134.15" y="297.05" width="5.7" height="5.7" rx="0.6" fill="#fff" stroke="#2f4c8c" stroke-width="1.15"/>
<rect x="139.35" y="300.35" width="5.7" height="5.7" rx="0.6" fill="#fff" stroke="#2f4c8c" stroke-width="1.15"/>
<rect x="134.15" y="304.35" width="5.7" height="5.7" rx="0.6" fill="#fff" stroke="#2f4c8c" stroke-width="1.15"/>
<rect x="139.35" y="306.05" width="5.7" height="5.7" rx="0.6" fill="#fff" stroke="#2f4c8c" stroke-width="1.15"/>
<rect x="129.25" y="312.55" width="5.7" height="5.7" rx="0.6" fill="#fff" stroke="#2f4c8c" stroke-width="1.15"/>
<rect x="134.15" y="314.15" width="5.7" height="5.7" rx="0.6" fill="#fff" stroke="#2f4c8c" stroke-width="1.15"/>
<rect x="139.35" y="313.35" width="5.7" height="5.7" rx="0.6" fill="#fff" stroke="#2f4c8c" stroke-width="1.15"/>
<rect x="144.25" y="316.15" width="5.7" height="5.7" rx="0.6" fill="#fff" stroke="#2f4c8c" stroke-width="1.15"/>
<rect x="136.45" y="321.65" width="5.7" height="5.7" rx="0.6" fill="#fff" stroke="#2f4c8c" stroke-width="1.15"/>
<text x="50.2" y="371.0" font-size="8.0" textLength="15.2" lengthAdjust="spacingAndGlyphs" fill="#111">n=8</text>
<text x="78.7" y="371.0" font-size="8.0" textLength="9.6" lengthAdjust="spacingAndGlyphs" fill="#111">10</text>
<text x="107.4" y="371.0" font-size="8.8" textLength="9.9" lengthAdjust="spacingAndGlyphs" fill="#111">13</text>
<text x="134.6" y="371.0" font-size="8.8" textLength="9.6" lengthAdjust="spacingAndGlyphs" fill="#111">13</text>
<text x="49.4" y="388.0" font-size="10.0" textLength="17.9" lengthAdjust="spacingAndGlyphs" fill="#111">Solv</text>
<text x="72.0" y="388.0" font-size="10.0" textLength="21.8" lengthAdjust="spacingAndGlyphs" fill="#111">PR73</text>
<text x="103.2" y="388.0" font-size="10.0" textLength="17.9" lengthAdjust="spacingAndGlyphs" fill="#111">Solv</text>
<text x="128.6" y="388.0" font-size="10.0" textLength="21.3" lengthAdjust="spacingAndGlyphs" fill="#111">PR73</text>
<text x="0" y="0" font-size="10.8" text-anchor="middle" textLength="100.4" lengthAdjust="spacingAndGlyphs" fill="#111" transform="translate(12.6,305.3) rotate(-90)">Embryo brain weight (mg)</text>
<text x="171.0" y="218.7" font-size="13.2" font-weight="bold" textLength="8.6" lengthAdjust="spacingAndGlyphs" fill="#111">E</text>
<text x="246.5" y="217.5" font-size="10.6" textLength="65.1" lengthAdjust="spacingAndGlyphs" fill="#111">Embryo Total</text>
<text x="255.2" y="230.8" font-size="10.6" textLength="47.6" lengthAdjust="spacingAndGlyphs" fill="#111">Brain Iron</text>
<rect x="278.2" y="236.8" width="58.0" height="134.8" fill="#dfdfe1"/>
<rect x="278.7" y="237.3" width="57.0" height="133.8" fill="none" stroke="#d7d7d9" stroke-width="0.8"/>
<line x1="221.8" y1="237.2" x2="221.8" y2="373.6" stroke="#111" stroke-width="1.3"/>
<line x1="218.3" y1="240.4" x2="221.8" y2="240.4" stroke="#111" stroke-width="1.2"/>
<text x="215.0" y="243.4" font-size="9.0" text-anchor="end" fill="#111">1.5</text>
<line x1="218.3" y1="284.6" x2="221.8" y2="284.6" stroke="#111" stroke-width="1.2"/>
<text x="215.0" y="287.6" font-size="9.0" text-anchor="end" fill="#111">1.0</text>
<line x1="218.3" y1="328.8" x2="221.8" y2="328.8" stroke="#111" stroke-width="1.2"/>
<text x="215.0" y="331.8" font-size="9.0" text-anchor="end" fill="#111">0.5</text>
<line x1="218.3" y1="373.0" x2="221.8" y2="373.0" stroke="#111" stroke-width="1.2"/>
<text x="215.0" y="376.0" font-size="9.0" text-anchor="end" fill="#111">0.0</text>
<line x1="218.2" y1="373.0" x2="336.1" y2="373.0" stroke="#111" stroke-width="1.3"/>
<line x1="237.8" y1="373.0" x2="237.8" y2="376.6" stroke="#111" stroke-width="1.2"/>
<line x1="264.7" y1="373.0" x2="264.7" y2="376.6" stroke="#111" stroke-width="1.2"/>
<line x1="292.1" y1="373.0" x2="292.1" y2="376.6" stroke="#111" stroke-width="1.2"/>
<line x1="319.0" y1="373.0" x2="319.0" y2="376.6" stroke="#111" stroke-width="1.2"/>
<text x="236.7" y="244.5" font-size="8.4" textLength="23.1" lengthAdjust="spacingAndGlyphs" fill="#111">50-6d</text>
<text x="292.2" y="246.3" font-size="8.4" textLength="27.6" lengthAdjust="spacingAndGlyphs" fill="#111">10-11d</text>
<text x="230.5" y="268.9" font-size="8.4" textLength="31.3" lengthAdjust="spacingAndGlyphs" fill="#111">P=0.016</text>
<text x="262.0" y="264.0" font-size="4.4" textLength="3.4" lengthAdjust="spacingAndGlyphs" fill="#111" style="stroke:none">#</text>
<text x="288.8" y="269.7" font-size="8.4" textLength="31.4" lengthAdjust="spacingAndGlyphs" fill="#111">P=0.002</text>
<text x="320.3" y="265.6" font-size="4.4" textLength="2.9" lengthAdjust="spacingAndGlyphs" fill="#111" style="stroke:none">*</text>
<circle cx="237.8" cy="288.0" r="2.75" fill="#fff" stroke="#ad1a43" stroke-width="1.2"/>
<circle cx="237.8" cy="294.2" r="2.75" fill="#fff" stroke="#ad1a43" stroke-width="1.2"/>
<circle cx="237.8" cy="301.4" r="2.75" fill="#fff" stroke="#ad1a43" stroke-width="1.2"/>
<circle cx="237.8" cy="310.0" r="2.75" fill="#fff" stroke="#ad1a43" stroke-width="1.2"/>
<circle cx="230.1" cy="324.7" r="2.75" fill="#fff" stroke="#ad1a43" stroke-width="1.2"/>
<circle cx="245.5" cy="324.7" r="2.75" fill="#fff" stroke="#ad1a43" stroke-width="1.2"/>
<circle cx="230.1" cy="336.1" r="2.75" fill="#fff" stroke="#ad1a43" stroke-width="1.2"/>
<circle cx="245.5" cy="336.1" r="2.75" fill="#fff" stroke="#ad1a43" stroke-width="1.2"/>
<circle cx="257.3" cy="336.4" r="2.75" fill="#fff" stroke="#2f4c8c" stroke-width="1.2"/>
<circle cx="267.4" cy="337.2" r="2.75" fill="#fff" stroke="#2f4c8c" stroke-width="1.2"/>
<circle cx="272.8" cy="341.0" r="2.75" fill="#fff" stroke="#2f4c8c" stroke-width="1.2"/>
<circle cx="262.2" cy="343.7" r="2.75" fill="#fff" stroke="#2f4c8c" stroke-width="1.2"/>
<circle cx="267.4" cy="343.2" r="2.75" fill="#fff" stroke="#2f4c8c" stroke-width="1.2"/>
<circle cx="257.3" cy="347.0" r="2.75" fill="#fff" stroke="#2f4c8c" stroke-width="1.2"/>
<circle cx="262.2" cy="349.4" r="2.75" fill="#fff" stroke="#2f4c8c" stroke-width="1.2"/>
<circle cx="267.4" cy="349.4" r="2.75" fill="#fff" stroke="#2f4c8c" stroke-width="1.2"/>
<circle cx="272.8" cy="350.2" r="2.75" fill="#fff" stroke="#2f4c8c" stroke-width="1.2"/>
<circle cx="264.7" cy="358.4" r="2.75" fill="#fff" stroke="#2f4c8c" stroke-width="1.2"/>
<rect x="292.05" y="278.15" width="5.7" height="5.7" rx="0.6" fill="#fff" stroke="#ad1a43" stroke-width="1.15"/>
<rect x="286.45" y="282.05" width="5.7" height="5.7" rx="0.6" fill="#fff" stroke="#ad1a43" stroke-width="1.15"/>
<rect x="289.25" y="287.85" width="5.7" height="5.7" rx="0.6" fill="#fff" stroke="#ad1a43" stroke-width="1.15"/>
<rect x="289.25" y="308.05" width="5.7" height="5.7" rx="0.6" fill="#fff" stroke="#ad1a43" stroke-width="1.15"/>
<rect x="281.95" y="316.25" width="5.7" height="5.7" rx="0.6" fill="#fff" stroke="#ad1a43" stroke-width="1.15"/>
<rect x="287.15" y="314.55" width="5.7" height="5.7" rx="0.6" fill="#fff" stroke="#ad1a43" stroke-width="1.15"/>
<rect x="291.65" y="315.45" width="5.7" height="5.7" rx="0.6" fill="#fff" stroke="#ad1a43" stroke-width="1.15"/>
<rect x="297.35" y="319.45" width="5.7" height="5.7" rx="0.6" fill="#fff" stroke="#ad1a43" stroke-width="1.15"/>
<rect x="281.95" y="322.75" width="5.7" height="5.7" rx="0.6" fill="#fff" stroke="#ad1a43" stroke-width="1.15"/>
<rect x="287.15" y="321.95" width="5.7" height="5.7" rx="0.6" fill="#fff" stroke="#ad1a43" stroke-width="1.15"/>
<rect x="291.65" y="322.25" width="5.7" height="5.7" rx="0.6" fill="#fff" stroke="#ad1a43" stroke-width="1.15"/>
<rect x="281.95" y="329.75" width="5.7" height="5.7" rx="0.6" fill="#fff" stroke="#ad1a43" stroke-width="1.15"/>
<rect x="287.15" y="329.25" width="5.7" height="5.7" rx="0.6" fill="#fff" stroke="#ad1a43" stroke-width="1.15"/>
<rect x="292.05" y="328.45" width="5.7" height="5.7" rx="0.6" fill="#fff" stroke="#ad1a43" stroke-width="1.15"/>
<rect x="297.35" y="329.25" width="5.7" height="5.7" rx="0.6" fill="#fff" stroke="#ad1a43" stroke-width="1.15"/>
<rect x="316.15" y="311.05" width="5.7" height="5.7" rx="0.6" fill="#fff" stroke="#2f4c8c" stroke-width="1.15"/>
<rect x="315.75" y="317.85" width="5.7" height="5.7" rx="0.6" fill="#fff" stroke="#2f4c8c" stroke-width="1.15"/>
<rect x="308.35" y="325.15" width="5.7" height="5.7" rx="0.6" fill="#fff" stroke="#2f4c8c" stroke-width="1.15"/>
<rect x="315.75" y="325.55" width="5.7" height="5.7" rx="0.6" fill="#fff" stroke="#2f4c8c" stroke-width="1.15"/>
<rect x="320.15" y="324.35" width="5.7" height="5.7" rx="0.6" fill="#fff" stroke="#2f4c8c" stroke-width="1.15"/>
<rect x="308.35" y="334.65" width="5.7" height="5.7" rx="0.6" fill="#fff" stroke="#2f4c8c" stroke-width="1.15"/>
<rect x="312.55" y="333.35" width="5.7" height="5.7" rx="0.6" fill="#fff" stroke="#2f4c8c" stroke-width="1.15"/>
<rect x="315.75" y="331.65" width="5.7" height="5.7" rx="0.6" fill="#fff" stroke="#2f4c8c" stroke-width="1.15"/>
<rect x="320.15" y="333.65" width="5.7" height="5.7" rx="0.6" fill="#fff" stroke="#2f4c8c" stroke-width="1.15"/>
<rect x="324.25" y="333.65" width="5.7" height="5.7" rx="0.6" fill="#fff" stroke="#2f4c8c" stroke-width="1.15"/>
<rect x="315.75" y="337.85" width="5.7" height="5.7" rx="0.6" fill="#fff" stroke="#2f4c8c" stroke-width="1.15"/>
<rect x="315.75" y="346.35" width="5.7" height="5.7" rx="0.6" fill="#fff" stroke="#2f4c8c" stroke-width="1.15"/>
<text x="230.7" y="372.0" font-size="8.8" textLength="15.6" lengthAdjust="spacingAndGlyphs" fill="#111">n=8</text>
<text x="261.1" y="372.0" font-size="8.8" textLength="9.6" lengthAdjust="spacingAndGlyphs" fill="#111">10</text>
<text x="288.1" y="372.0" font-size="8.8" textLength="9.2" lengthAdjust="spacingAndGlyphs" fill="#111">13</text>
<text x="314.6" y="372.0" font-size="8.8" textLength="9.6" lengthAdjust="spacingAndGlyphs" fill="#111">13</text>
<text x="229.0" y="388.0" font-size="10.0" textLength="17.3" lengthAdjust="spacingAndGlyphs" fill="#111">Solv</text>
<text x="254.6" y="388.0" font-size="10.0" textLength="21.0" lengthAdjust="spacingAndGlyphs" fill="#111">PR73</text>
<text x="283.2" y="388.0" font-size="10.0" textLength="17.9" lengthAdjust="spacingAndGlyphs" fill="#111">Solv</text>
<text x="308.3" y="388.0" font-size="10.0" textLength="21.4" lengthAdjust="spacingAndGlyphs" fill="#111">PR73</text>
<text x="0" y="0" font-size="10.8" text-anchor="middle" textLength="77.1" lengthAdjust="spacingAndGlyphs" fill="#111" transform="translate(195.2,305.5) rotate(-90)">Total brain iron (μg)</text>
<text x="354.0" y="218.5" font-size="13.2" font-weight="bold" textLength="7.6" lengthAdjust="spacingAndGlyphs" fill="#111">F</text>
<text x="410.3" y="230.6" font-size="10.6" textLength="64.4" lengthAdjust="spacingAndGlyphs" fill="#111">Embryo Liver</text>
<text x="478.3" y="230.6" font-size="10.6" font-style="italic" textLength="23.3" lengthAdjust="spacingAndGlyphs" fill="#111">Saa1</text>
<rect x="454.0" y="237.1" width="57.6" height="134.9" fill="#dfdfe1"/>
<rect x="454.5" y="237.6" width="56.6" height="133.9" fill="none" stroke="#d7d7d9" stroke-width="0.8"/>
<line x1="399.4" y1="237.1" x2="399.4" y2="373.8" stroke="#111" stroke-width="1.3"/>
<line x1="395.9" y1="240.3" x2="399.4" y2="240.3" stroke="#111" stroke-width="1.2"/>
<text x="392.9" y="243.3" font-size="9.0" text-anchor="end" fill="#111">0.008</text>
<line x1="395.9" y1="273.3" x2="399.4" y2="273.3" stroke="#111" stroke-width="1.2"/>
<text x="392.9" y="276.3" font-size="9.0" text-anchor="end" fill="#111">0.006</text>
<line x1="395.9" y1="306.6" x2="399.4" y2="306.6" stroke="#111" stroke-width="1.2"/>
<text x="392.9" y="309.6" font-size="9.0" text-anchor="end" fill="#111">0.004</text>
<line x1="395.9" y1="340.5" x2="399.4" y2="340.5" stroke="#111" stroke-width="1.2"/>
<text x="392.9" y="343.5" font-size="9.0" text-anchor="end" fill="#111">0.002</text>
<line x1="395.9" y1="373.2" x2="399.4" y2="373.2" stroke="#111" stroke-width="1.2"/>
<text x="392.9" y="376.2" font-size="9.0" text-anchor="end" fill="#111">0.000</text>
<line x1="396.0" y1="373.2" x2="511.6" y2="373.2" stroke="#111" stroke-width="1.3"/>
<line x1="416.2" y1="373.2" x2="416.2" y2="376.8" stroke="#111" stroke-width="1.2"/>
<line x1="439.5" y1="373.2" x2="439.5" y2="376.8" stroke="#111" stroke-width="1.2"/>
<line x1="471.4" y1="373.2" x2="471.4" y2="376.8" stroke="#111" stroke-width="1.2"/>
<line x1="498.8" y1="373.2" x2="498.8" y2="376.8" stroke="#111" stroke-width="1.2"/>
<text x="415.9" y="245.0" font-size="8.4" textLength="22.7" lengthAdjust="spacingAndGlyphs" fill="#111">50-6d</text>
<text x="471.6" y="245.8" font-size="8.4" textLength="27.1" lengthAdjust="spacingAndGlyphs" fill="#111">10-11d</text>
<text x="409.3" y="269.0" font-size="8.4" textLength="32.2" lengthAdjust="spacingAndGlyphs" fill="#111">P=0.003</text>
<text x="441.7" y="264.6" font-size="4.4" textLength="3.8" lengthAdjust="spacingAndGlyphs" fill="#111" style="stroke:none">#</text>
<text x="467.1" y="269.9" font-size="8.4" textLength="32.4" lengthAdjust="spacingAndGlyphs" fill="#111">P=0.100</text>
<text x="499.7" y="265.5" font-size="4.4" textLength="3.2" lengthAdjust="spacingAndGlyphs" fill="#111" style="stroke:none">#</text>
<circle cx="407.7" cy="286.3" r="2.75" fill="#fff" stroke="#ad1a43" stroke-width="1.2"/>
<circle cx="415.4" cy="288.2" r="2.75" fill="#fff" stroke="#ad1a43" stroke-width="1.2"/>
<circle cx="422.7" cy="285.8" r="2.75" fill="#fff" stroke="#ad1a43" stroke-width="1.2"/>
<circle cx="415.4" cy="303.4" r="2.75" fill="#fff" stroke="#ad1a43" stroke-width="1.2"/>
<circle cx="415.4" cy="315.6" r="2.75" fill="#fff" stroke="#ad1a43" stroke-width="1.2"/>
<circle cx="415.4" cy="321.3" r="2.75" fill="#fff" stroke="#ad1a43" stroke-width="1.2"/>
<circle cx="407.7" cy="338.0" r="2.75" fill="#fff" stroke="#ad1a43" stroke-width="1.2"/>
<circle cx="415.4" cy="342.6" r="2.75" fill="#fff" stroke="#ad1a43" stroke-width="1.2"/>
<circle cx="422.7" cy="341.8" r="2.75" fill="#fff" stroke="#ad1a43" stroke-width="1.2"/>
<circle cx="415.4" cy="367.7" r="2.75" fill="#fff" stroke="#ad1a43" stroke-width="1.2"/>
<circle cx="439.3" cy="318.0" r="2.75" fill="#fff" stroke="#2f4c8c" stroke-width="1.2"/>
<circle cx="437.0" cy="350.2" r="2.75" fill="#fff" stroke="#2f4c8c" stroke-width="1.2"/>
<circle cx="441.9" cy="348.1" r="2.75" fill="#fff" stroke="#2f4c8c" stroke-width="1.2"/>
<circle cx="441.9" cy="354.3" r="2.75" fill="#fff" stroke="#2f4c8c" stroke-width="1.2"/>
<circle cx="437.0" cy="356.8" r="2.75" fill="#fff" stroke="#2f4c8c" stroke-width="1.2"/>
<circle cx="432.1" cy="362.1" r="2.75" fill="#fff" stroke="#2f4c8c" stroke-width="1.2"/>
<circle cx="437.0" cy="364.1" r="2.75" fill="#fff" stroke="#2f4c8c" stroke-width="1.2"/>
<circle cx="432.1" cy="368.2" r="2.75" fill="#fff" stroke="#2f4c8c" stroke-width="1.2"/>
<circle cx="437.0" cy="368.6" r="2.75" fill="#fff" stroke="#2f4c8c" stroke-width="1.2"/>
<circle cx="441.9" cy="368.2" r="2.75" fill="#fff" stroke="#2f4c8c" stroke-width="1.2"/>
<circle cx="447.1" cy="367.0" r="2.75" fill="#fff" stroke="#2f4c8c" stroke-width="1.2"/>
<rect x="461.45" y="320.25" width="5.7" height="5.7" rx="0.6" fill="#fff" stroke="#ad1a43" stroke-width="1.15"/>
<rect x="461.45" y="326.45" width="5.7" height="5.7" rx="0.6" fill="#fff" stroke="#ad1a43" stroke-width="1.15"/>
<rect x="468.35" y="327.75" width="5.7" height="5.7" rx="0.6" fill="#fff" stroke="#ad1a43" stroke-width="1.15"/>
<rect x="476.15" y="326.15" width="5.7" height="5.7" rx="0.6" fill="#fff" stroke="#ad1a43" stroke-width="1.15"/>
<rect x="460.95" y="357.15" width="5.7" height="5.7" rx="0.6" fill="#fff" stroke="#ad1a43" stroke-width="1.15"/>
<rect x="476.55" y="360.25" width="5.7" height="5.7" rx="0.6" fill="#fff" stroke="#ad1a43" stroke-width="1.15"/>
<rect x="468.45" y="362.75" width="5.7" height="5.7" rx="0.6" fill="#fff" stroke="#ad1a43" stroke-width="1.15"/>
<rect x="468.45" y="367.75" width="5.7" height="5.7" rx="0.6" fill="#fff" stroke="#ad1a43" stroke-width="1.15"/>
<rect x="496.55" y="338.15" width="5.7" height="5.7" rx="0.6" fill="#fff" stroke="#2f4c8c" stroke-width="1.15"/>
<rect x="490.95" y="342.85" width="5.7" height="5.7" rx="0.6" fill="#fff" stroke="#2f4c8c" stroke-width="1.15"/>
<rect x="486.15" y="361.55" width="5.7" height="5.7" rx="0.6" fill="#fff" stroke="#2f4c8c" stroke-width="1.15"/>
<rect x="491.55" y="364.65" width="5.7" height="5.7" rx="0.6" fill="#fff" stroke="#2f4c8c" stroke-width="1.15"/>
<rect x="496.95" y="359.45" width="5.7" height="5.7" rx="0.6" fill="#fff" stroke="#2f4c8c" stroke-width="1.15"/>
<rect x="501.55" y="365.65" width="5.7" height="5.7" rx="0.6" fill="#fff" stroke="#2f4c8c" stroke-width="1.15"/>
<rect x="486.15" y="367.15" width="5.7" height="5.7" rx="0.6" fill="#fff" stroke="#2f4c8c" stroke-width="1.15"/>
<rect x="496.95" y="367.15" width="5.7" height="5.7" rx="0.6" fill="#fff" stroke="#2f4c8c" stroke-width="1.15"/>
<text x="403.8" y="382.0" font-size="8.0" textLength="10.7" lengthAdjust="spacingAndGlyphs" fill="#111">n=</text>
<text x="416.3" y="382.0" font-size="8.0" textLength="10.2" lengthAdjust="spacingAndGlyphs" fill="#111">10</text>
<text x="440.4" y="382.0" font-size="8.0" textLength="9.7" lengthAdjust="spacingAndGlyphs" fill="#111">10</text>
<text x="474.0" y="382.0" font-size="8.0" textLength="5.0" lengthAdjust="spacingAndGlyphs" fill="#111">8</text>
<text x="498.1" y="382.0" font-size="8.0" textLength="4.9" lengthAdjust="spacingAndGlyphs" fill="#111">8</text>
<text x="406.2" y="389.2" font-size="9.2" textLength="18.4" lengthAdjust="spacingAndGlyphs" fill="#111">Solv</text>
<text x="428.4" y="389.2" font-size="9.2" textLength="22.2" lengthAdjust="spacingAndGlyphs" fill="#111">PR73</text>
<text x="462.5" y="389.2" font-size="9.2" textLength="18.1" lengthAdjust="spacingAndGlyphs" fill="#111">Solv</text>
<text x="486.0" y="389.2" font-size="9.2" textLength="22.3" lengthAdjust="spacingAndGlyphs" fill="#111">PR73</text>
<g transform="translate(359.6,331.7) rotate(-90)"><text x="0" y="0" font-size="6.2" textLength="4.6" lengthAdjust="spacingAndGlyphs">2</text><text x="5.2" y="2.3" font-size="6.6" textLength="48" lengthAdjust="spacingAndGlyphs">-ΔCt(<tspan font-style="italic">Hprt-Saa1</tspan>)</text></g>
<line x1="57.8" y1="99.0" x2="57.8" y2="130.4" stroke="#ad1a43" stroke-width="1.35"/>
<line x1="53.8" y1="99.0" x2="61.8" y2="99.0" stroke="#ad1a43" stroke-width="1.35"/>
<line x1="53.8" y1="130.4" x2="61.8" y2="130.4" stroke="#ad1a43" stroke-width="1.35"/>
<line x1="47.8" y1="114.7" x2="67.8" y2="114.7" stroke="#ad1a43" stroke-width="1.35"/>
<line x1="83.0" y1="138.2" x2="83.0" y2="179.6" stroke="#2f4c8c" stroke-width="1.35"/>
<line x1="78.0" y1="138.2" x2="88.0" y2="138.2" stroke="#2f4c8c" stroke-width="1.35"/>
<line x1="78.0" y1="179.6" x2="88.0" y2="179.6" stroke="#2f4c8c" stroke-width="1.35"/>
<line x1="73.0" y1="159.8" x2="93.0" y2="159.8" stroke="#2f4c8c" stroke-width="1.35"/>
<line x1="111.3" y1="90.4" x2="111.3" y2="133.5" stroke="#ad1a43" stroke-width="1.35"/>
<line x1="106.8" y1="90.4" x2="115.8" y2="90.4" stroke="#ad1a43" stroke-width="1.35"/>
<line x1="106.8" y1="133.5" x2="115.8" y2="133.5" stroke="#ad1a43" stroke-width="1.35"/>
<line x1="101.3" y1="112.2" x2="121.3" y2="112.2" stroke="#ad1a43" stroke-width="1.35"/>
<line x1="139.3" y1="112.2" x2="139.3" y2="161.9" stroke="#2f4c8c" stroke-width="1.35"/>
<line x1="134.3" y1="112.2" x2="144.3" y2="112.2" stroke="#2f4c8c" stroke-width="1.35"/>
<line x1="134.3" y1="161.9" x2="144.3" y2="161.9" stroke="#2f4c8c" stroke-width="1.35"/>
<line x1="129.8" y1="137.1" x2="148.8" y2="137.1" stroke="#2f4c8c" stroke-width="1.35"/>
<line x1="238.4" y1="88.5" x2="238.4" y2="142.7" stroke="#ad1a43" stroke-width="1.35"/>
<line x1="233.4" y1="88.5" x2="243.4" y2="88.5" stroke="#ad1a43" stroke-width="1.35"/>
<line x1="233.4" y1="142.7" x2="243.4" y2="142.7" stroke="#ad1a43" stroke-width="1.35"/>
<line x1="228.4" y1="115.8" x2="248.4" y2="115.8" stroke="#ad1a43" stroke-width="1.35"/>
<line x1="264.0" y1="146.8" x2="264.0" y2="167.1" stroke="#2f4c8c" stroke-width="1.35"/>
<line x1="260.0" y1="146.8" x2="268.0" y2="146.8" stroke="#2f4c8c" stroke-width="1.35"/>
<line x1="260.0" y1="167.1" x2="268.0" y2="167.1" stroke="#2f4c8c" stroke-width="1.35"/>
<line x1="255.0" y1="157.1" x2="273.0" y2="157.1" stroke="#2f4c8c" stroke-width="1.35"/>
<line x1="293.0" y1="101.0" x2="293.0" y2="144.7" stroke="#ad1a43" stroke-width="1.35"/>
<line x1="288.0" y1="101.0" x2="298.0" y2="101.0" stroke="#ad1a43" stroke-width="1.35"/>
<line x1="288.0" y1="144.7" x2="298.0" y2="144.7" stroke="#ad1a43" stroke-width="1.35"/>
<line x1="283.0" y1="123.5" x2="303.0" y2="123.5" stroke="#ad1a43" stroke-width="1.35"/>
<line x1="319.3" y1="140.6" x2="319.3" y2="160.9" stroke="#2f4c8c" stroke-width="1.35"/>
<line x1="314.3" y1="140.6" x2="324.3" y2="140.6" stroke="#2f4c8c" stroke-width="1.35"/>
<line x1="314.3" y1="160.9" x2="324.3" y2="160.9" stroke="#2f4c8c" stroke-width="1.35"/>
<line x1="308.8" y1="149.6" x2="329.8" y2="149.6" stroke="#2f4c8c" stroke-width="1.35"/>
<line x1="416.2" y1="73.5" x2="416.2" y2="89.8" stroke="#ad1a43" stroke-width="1.35"/>
<line x1="411.2" y1="73.5" x2="421.2" y2="73.5" stroke="#ad1a43" stroke-width="1.35"/>
<line x1="411.2" y1="89.8" x2="421.2" y2="89.8" stroke="#ad1a43" stroke-width="1.35"/>
<line x1="406.2" y1="82.1" x2="426.2" y2="82.1" stroke="#ad1a43" stroke-width="1.35"/>
<line x1="443.5" y1="87.7" x2="443.5" y2="139.9" stroke="#2f4c8c" stroke-width="1.35"/>
<line x1="438.5" y1="87.7" x2="448.5" y2="87.7" stroke="#2f4c8c" stroke-width="1.35"/>
<line x1="438.5" y1="139.9" x2="448.5" y2="139.9" stroke="#2f4c8c" stroke-width="1.35"/>
<line x1="434.0" y1="114.3" x2="453.0" y2="114.3" stroke="#2f4c8c" stroke-width="1.35"/>
<line x1="471.2" y1="81.1" x2="471.2" y2="115.5" stroke="#ad1a43" stroke-width="1.35"/>
<line x1="466.7" y1="81.1" x2="475.7" y2="81.1" stroke="#ad1a43" stroke-width="1.35"/>
<line x1="466.7" y1="115.5" x2="475.7" y2="115.5" stroke="#ad1a43" stroke-width="1.35"/>
<line x1="460.7" y1="98.2" x2="481.7" y2="98.2" stroke="#ad1a43" stroke-width="1.35"/>
<line x1="497.1" y1="104.5" x2="497.1" y2="124.0" stroke="#2f4c8c" stroke-width="1.35"/>
<line x1="492.1" y1="104.5" x2="502.1" y2="104.5" stroke="#2f4c8c" stroke-width="1.35"/>
<line x1="492.1" y1="124.0" x2="502.1" y2="124.0" stroke="#2f4c8c" stroke-width="1.35"/>
<line x1="488.1" y1="114.3" x2="506.1" y2="114.3" stroke="#2f4c8c" stroke-width="1.35"/>
<line x1="58.1" y1="286.2" x2="58.1" y2="327.5" stroke="#ad1a43" stroke-width="1.35"/>
<line x1="53.1" y1="286.2" x2="63.1" y2="286.2" stroke="#ad1a43" stroke-width="1.35"/>
<line x1="53.1" y1="327.5" x2="63.1" y2="327.5" stroke="#ad1a43" stroke-width="1.35"/>
<line x1="48.1" y1="307.7" x2="68.1" y2="307.7" stroke="#ad1a43" stroke-width="1.35"/>
<line x1="83.0" y1="307.7" x2="83.0" y2="338.2" stroke="#2f4c8c" stroke-width="1.35"/>
<line x1="77.5" y1="307.7" x2="88.5" y2="307.7" stroke="#2f4c8c" stroke-width="1.35"/>
<line x1="77.5" y1="338.2" x2="88.5" y2="338.2" stroke="#2f4c8c" stroke-width="1.35"/>
<line x1="73.5" y1="322.3" x2="92.5" y2="322.3" stroke="#2f4c8c" stroke-width="1.35"/>
<line x1="110.5" y1="283.0" x2="110.5" y2="308.5" stroke="#ad1a43" stroke-width="1.35"/>
<line x1="106.0" y1="283.0" x2="115.0" y2="283.0" stroke="#ad1a43" stroke-width="1.35"/>
<line x1="106.0" y1="308.5" x2="115.0" y2="308.5" stroke="#ad1a43" stroke-width="1.35"/>
<line x1="100.5" y1="295.5" x2="120.5" y2="295.5" stroke="#ad1a43" stroke-width="1.35"/>
<line x1="139.3" y1="295.0" x2="139.3" y2="316.0" stroke="#2f4c8c" stroke-width="1.35"/>
<line x1="134.3" y1="295.0" x2="144.3" y2="295.0" stroke="#2f4c8c" stroke-width="1.35"/>
<line x1="134.3" y1="316.0" x2="144.3" y2="316.0" stroke="#2f4c8c" stroke-width="1.35"/>
<line x1="129.8" y1="305.6" x2="148.8" y2="305.6" stroke="#2f4c8c" stroke-width="1.35"/>
<line x1="237.8" y1="295.7" x2="237.8" y2="332.3" stroke="#ad1a43" stroke-width="1.35"/>
<line x1="232.8" y1="295.7" x2="242.8" y2="295.7" stroke="#ad1a43" stroke-width="1.35"/>
<line x1="232.8" y1="332.3" x2="242.8" y2="332.3" stroke="#ad1a43" stroke-width="1.35"/>
<line x1="227.8" y1="314.4" x2="247.8" y2="314.4" stroke="#ad1a43" stroke-width="1.35"/>
<line x1="264.7" y1="339.6" x2="264.7" y2="352.6" stroke="#2f4c8c" stroke-width="1.35"/>
<line x1="259.7" y1="339.6" x2="269.7" y2="339.6" stroke="#2f4c8c" stroke-width="1.35"/>
<line x1="259.7" y1="352.6" x2="269.7" y2="352.6" stroke="#2f4c8c" stroke-width="1.35"/>
<line x1="254.7" y1="346.2" x2="274.7" y2="346.2" stroke="#2f4c8c" stroke-width="1.35"/>
<line x1="292.1" y1="297.6" x2="292.1" y2="329.3" stroke="#ad1a43" stroke-width="1.35"/>
<line x1="286.6" y1="297.6" x2="297.6" y2="297.6" stroke="#ad1a43" stroke-width="1.35"/>
<line x1="286.6" y1="329.3" x2="297.6" y2="329.3" stroke="#ad1a43" stroke-width="1.35"/>
<line x1="282.1" y1="315.8" x2="302.1" y2="315.8" stroke="#ad1a43" stroke-width="1.35"/>
<line x1="318.6" y1="326.0" x2="318.6" y2="343.0" stroke="#2f4c8c" stroke-width="1.35"/>
<line x1="313.6" y1="326.0" x2="323.6" y2="326.0" stroke="#2f4c8c" stroke-width="1.35"/>
<line x1="313.6" y1="343.0" x2="323.6" y2="343.0" stroke="#2f4c8c" stroke-width="1.35"/>
<line x1="308.6" y1="334.5" x2="328.6" y2="334.5" stroke="#2f4c8c" stroke-width="1.35"/>
<line x1="415.4" y1="290.8" x2="415.4" y2="347.0" stroke="#ad1a43" stroke-width="1.35"/>
<line x1="410.4" y1="290.8" x2="420.4" y2="290.8" stroke="#ad1a43" stroke-width="1.35"/>
<line x1="410.4" y1="347.0" x2="420.4" y2="347.0" stroke="#ad1a43" stroke-width="1.35"/>
<line x1="405.4" y1="318.5" x2="425.4" y2="318.5" stroke="#ad1a43" stroke-width="1.35"/>
<line x1="439.3" y1="340.5" x2="439.3" y2="370.5" stroke="#2f4c8c" stroke-width="1.35"/>
<line x1="434.3" y1="340.5" x2="444.3" y2="340.5" stroke="#2f4c8c" stroke-width="1.35"/>
<line x1="434.3" y1="370.5" x2="444.3" y2="370.5" stroke="#2f4c8c" stroke-width="1.35"/>
<line x1="429.8" y1="355.6" x2="448.8" y2="355.6" stroke="#2f4c8c" stroke-width="1.35"/>
<line x1="471.4" y1="326.9" x2="471.4" y2="366.9" stroke="#ad1a43" stroke-width="1.35"/>
<line x1="466.9" y1="326.9" x2="475.9" y2="326.9" stroke="#ad1a43" stroke-width="1.35"/>
<line x1="466.9" y1="366.9" x2="475.9" y2="366.9" stroke="#ad1a43" stroke-width="1.35"/>
<line x1="461.9" y1="347.0" x2="480.9" y2="347.0" stroke="#ad1a43" stroke-width="1.35"/>
<line x1="497.3" y1="350.0" x2="497.3" y2="372.0" stroke="#2f4c8c" stroke-width="1.35"/>
<line x1="492.3" y1="350.0" x2="502.3" y2="350.0" stroke="#2f4c8c" stroke-width="1.35"/>
<line x1="492.3" y1="372.0" x2="502.3" y2="372.0" stroke="#2f4c8c" stroke-width="1.35"/>
<line x1="487.3" y1="361.5" x2="507.3" y2="361.5" stroke="#2f4c8c" stroke-width="1.35"/>
<rect x="1" y="1" width="518" height="1" fill="#a0a0a0"/><rect x="1" y="1" width="1" height="397" fill="#909090"/><rect x="518" y="1" width="1" height="397" fill="#a0a0a0"/><rect x="1" y="397" width="518" height="1" fill="#909090"/>
<rect x="0" y="0" width="520" height="1" fill="#000"/><rect x="0" y="398" width="520" height="1" fill="#000"/><rect x="0" y="0" width="1" height="399" fill="#000"/><rect x="519" y="0" width="1" height="399" fill="#000"/>
</svg>
</body></html>
